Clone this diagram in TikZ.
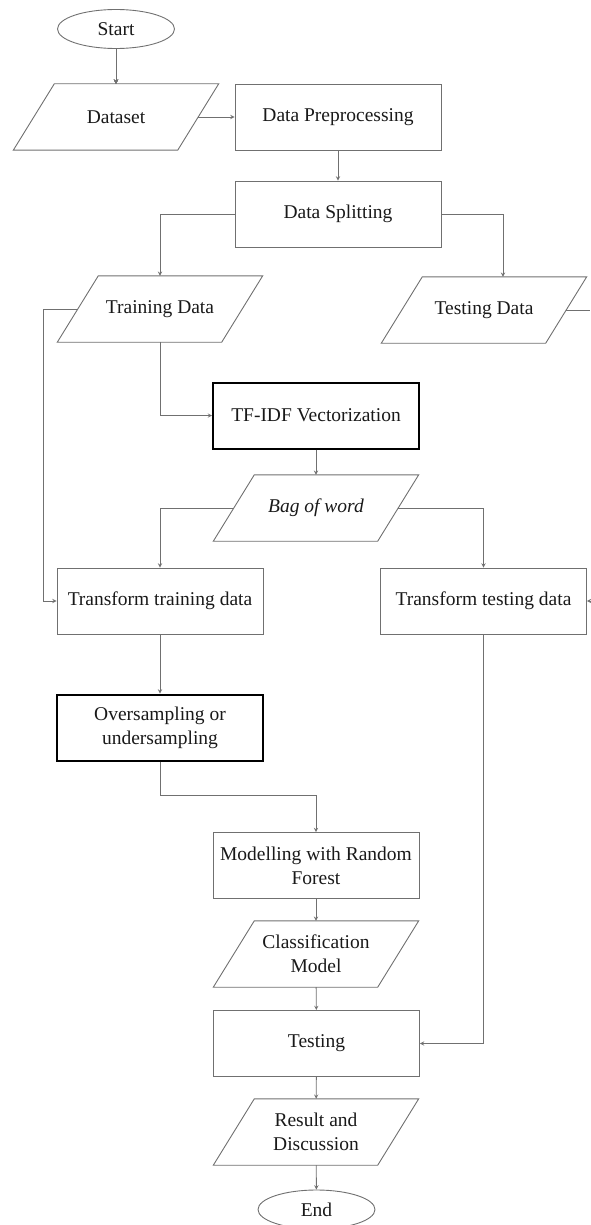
\documentclass[tikz,border=0pt]{standalone}
\usepackage{fontspec}
\setmainfont{Liberation Serif}
\usetikzlibrary{shapes, shapes.geometric, arrows, positioning}
\definecolor{linegray}{RGB}{112,112,112}
\definecolor{textblack}{RGB}{25,25,25}
% slanted outline round an io node
\newcommand{\ioframe}[1]{\draw[line] ([xshift=-20.5pt]#1.south west) -- ([xshift=20.5pt]#1.north west)
  -- ([xshift=20.5pt]#1.north east) -- ([xshift=-20.5pt]#1.south east) -- cycle;}

\begin{document}
\begin{tikzpicture}[>=stealth, x=1pt, y=-1pt, font=\fontsize{19.5}{24}\selectfont, text=textblack,
  line/.style={draw=linegray, line width=0.9pt},
  process/.style={rectangle, line, minimum width=206pt, minimum height=66pt, inner sep=0pt, align=center},
  keyprocess/.style={process, draw=black, line width=2pt},
  io/.style={rectangle, minimum width=164pt, minimum height=66pt, inner sep=0pt, align=center},
  terminal/.style={ellipse, line, minimum width=117pt, minimum height=39pt, inner sep=0pt}]
\useasboundingbox (0,0) rectangle (590,1225);
\coordinate (right edge) at (590,0);
%
\node[terminal] (start) at (116,29) {Start};
\node[io] (dataset) at (116,117) {Dataset};
\node[process] (prep) at (338,117) {Data Preprocessing};
\node[process] (split) at (338,214) {Data Splitting};
\node[io] (train) at (160,309) {Training Data};
\node[io] (test) at (484,310) {Testing Data};
\node[keyprocess] (tfidf) at (316,415.5) {TF-IDF Vectorization};
\node[io] (bow) at (316,508) {\itshape Bag of word};
\node[process] (ttrain) at (160,601) {Transform training data};
\node[process] (ttest) at (483.5,601) {Transform testing data};
\node[keyprocess] (over) at (160,727.5) {Oversampling or\\undersampling};
\node[process] (model) at (316,865.5) {Modelling with Random\\Forest};
\node[io] (cls) at (316,954) {Classification\\Model};
\node[process] (testing) at (316.5,1043.5) {Testing};
\node[io] (result) at (316,1132) {Result and\\Discussion};
\node[terminal] (end) at (316.5,1209.5) {End};
\foreach \n in {dataset, train, test, bow, cls, result}
  \ioframe{\n}
%
\draw[line, ->] (start) -- (dataset);
\draw[line, ->] (dataset.east) -- (prep.west);
\draw[line, ->] (prep) -- (split);
\draw[line, ->] (split.west) -| (train.north);
\draw[line, ->] (split.east) -| ([xshift=19pt]test.north);
%
\draw[line, ->] (train.west) -- ++(-34,0) |- (ttrain.west);
\draw[line, ->] (train.south) |- (tfidf.west);
\draw[line, ->] (tfidf) -- (bow);
\draw[line, ->] (bow.west) -| (ttrain.north);
\draw[line, ->] (bow.east) -| (ttest.north);
\draw[line] (test.east) -- (test.east -| right edge);
\draw[line, ->] (ttest.east -| right edge) -- (ttest.east);
%
\draw[line, ->] (ttrain) -- (over);
\draw[line, ->] (over.south) -- ++(0,34) -| (model.north);
\draw[line, ->] (model) -- (cls);
\draw[line, ->] (cls) -- (testing);
\draw[line, ->] (ttest.south) |- (testing.east);
\draw[line, ->] (testing) -- (result);
\draw[line, ->] (result) -- (end);
\end{tikzpicture}
\end{document}
